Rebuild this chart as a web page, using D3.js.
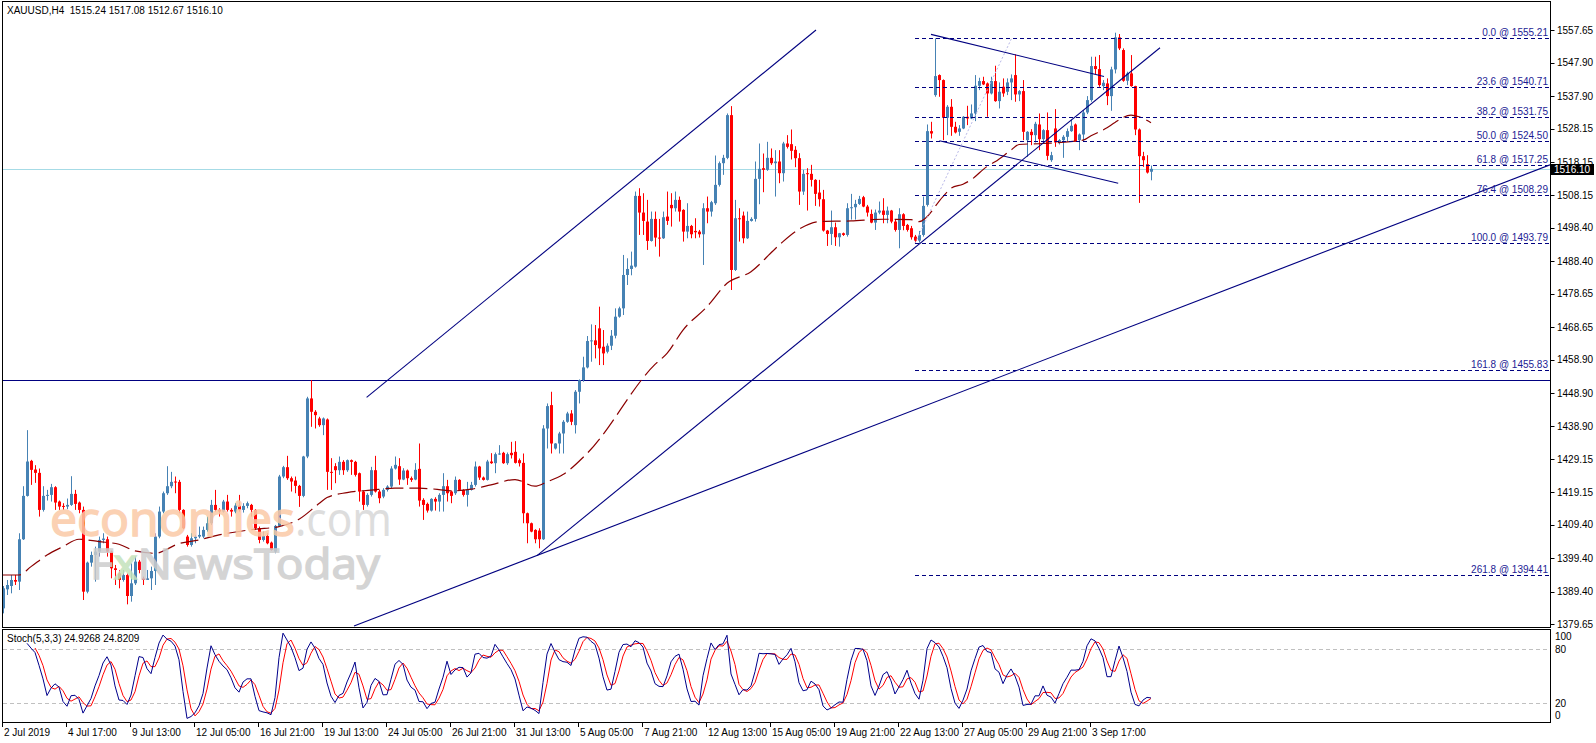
<!doctype html>
<html lang="en">
  <head>
    <meta charset="utf-8">
    <title>XAUUSD H4</title>
    <script src="https://d3js.org/d3.v7.min.js"></script>
    <style>
    body { margin: 0; background: #fff; }
    text { font-family: "Liberation Sans", Arial, sans-serif; font-size: 10px; fill: #000; }
    </style>
  </head>
  <body>
    <svg width="1596" height="743"></svg>
    <script>
      // H4 candles, 2 Jul 2019 .. 5 Sep 2019
      var opens = [
        1384.4,1390.1,1391.1,1392.9,1392.4,1405.1,1418.1,1428.6,1426.0,1425.0,
        1413.9,1418.1,1418.4,1420.7,1416.4,1415.1,1414.9,1415.4,1418.7,1416.1,
        1413.9,1389.4,1398.1,1400.4,1401.4,1404.9,1405.1,1401.4,1396.4,1394.9,
        1392.9,1394.4,1388.1,1391.9,1398.4,1393.4,1392.9,1393.4,1395.6,1405.9,
        1413.4,1418.9,1421.0,1422.4,1422.3,1413.9,1405.9,1403.4,1405.4,1405.9,
        1405.9,1407.9,1409.9,1415.4,1413.9,1413.4,1416.4,1413.9,1413.4,1415.2,
        1413.9,1415.1,1415.4,1413.9,1408.4,1404.9,1406.1,1404.1,1401.4,1409.1,
        1423.9,1426.7,1423.4,1422.7,1421.1,1418.1,1429.9,1447.3,1443.3,1441.3,
        1439.3,1441.0,1425.3,1427.0,1425.8,1428.3,1425.8,1428.8,1428.3,1424.9,
        1419.4,1415.4,1418.4,1425.8,1419.4,1417.9,1419.9,1420.9,1426.3,1427.0,
        1423.0,1425.7,1423.4,1423.0,1426.2,1416.9,1415.7,1413.7,1417.2,1416.4,
        1418.4,1421.0,1419.4,1418.9,1422.9,1419.9,1418.4,1419.9,1421.4,1426.9,
        1423.6,1422.9,1428.4,1427.9,1430.6,1431.0,1427.9,1431.0,1431.3,1428.8,
        1428.0,1412.9,1409.9,1407.9,1407.7,1405.1,1438.3,1445.3,1432.3,1433.8,
        1436.8,1440.3,1442.8,1439.3,1449.3,1452.8,1456.6,1464.5,1464.7,1468.3,
        1462.8,1461.3,1463.1,1466.1,1471.8,1474.3,1484.3,1486.1,1486.8,1508.0,
        1503.0,1500.3,1494.5,1501.1,1495.5,1495.3,1501.8,1505.3,1504.3,1506.8,
        1503.8,1497.3,1499.0,1497.5,1497.3,1496.5,1504.3,1503.3,1505.8,1511.3,
        1517.8,1519.4,1532.2,1485.8,1501.3,1502.1,1495.3,1500.5,1501.1,1513.1,
        1516.3,1515.8,1519.4,1517.8,1518.3,1514.8,1523.7,1523.5,1521.8,1519.3,
        1509.3,1514.8,1514.6,1512.8,1509.0,1507.0,1497.6,1496.6,1498.6,1495.6,
        1496.8,1496.3,1504.3,1504.6,1505.6,1507.6,1504.8,1502.6,1500.0,1503.0,
        1503.6,1502.3,1503.6,1500.3,1497.8,1502.5,1499.3,1498.3,1495.8,1494.6,
        1496.3,1505.3,1527.4,1538.2,1544.2,1542.7,1531.4,1534.7,1528.7,1527.2,
        1528.2,1531.7,1531.2,1532.7,1541.0,1542.4,1541.7,1538.7,1542.4,1536.4,
        1540.7,1539.2,1542.0,1544.2,1538.4,1539.4,1524.7,1527.2,1526.2,1529.4,
        1525.0,1527.7,1518.7,1528.2,1524.0,1524.7,1525.7,1527.4,1529.4,1524.7,
        1526.4,1533.0,1536.7,1546.9,1546.0,1540.9,1541.7,1537.9,1545.9,1555.5,
        1551.7,1542.5,1544.7,1540.9,1527.9,1519.9,1517.5,1515.24
      ];
      var highs = [
        1391.1,1392.9,1394.4,1394.4,1406.9,1421.0,1437.8,1428.9,1427.3,1426.3,
        1421.0,1419.9,1421.7,1421.0,1416.7,1415.9,1417.3,1424.0,1419.9,1416.4,
        1414.9,1398.4,1401.4,1402.9,1405.9,1406.9,1405.9,1401.7,1397.4,1395.9,
        1395.9,1394.9,1397.9,1399.9,1398.9,1393.9,1395.9,1396.9,1406.9,1414.9,
        1419.4,1427.0,1425.3,1423.9,1422.9,1414.1,1406.4,1406.9,1406.4,1408.9,
        1408.9,1411.9,1416.9,1419.9,1414.4,1416.9,1418.4,1414.4,1415.9,1418.4,
        1415.9,1416.4,1415.7,1414.1,1408.9,1407.4,1406.9,1404.4,1409.4,1424.4,
        1427.1,1430.1,1423.9,1423.9,1421.4,1430.1,1447.8,1452.8,1443.8,1441.8,
        1441.6,1441.3,1429.4,1427.9,1429.9,1428.8,1429.0,1429.0,1428.6,1425.1,
        1419.7,1418.9,1426.8,1430.1,1419.9,1420.4,1421.3,1427.0,1429.9,1429.4,
        1426.4,1426.0,1423.9,1427.9,1433.8,1417.4,1416.1,1417.4,1417.7,1418.9,
        1424.9,1422.9,1419.7,1423.9,1423.1,1420.1,1422.3,1422.3,1428.4,1427.1,
        1423.9,1428.9,1430.9,1431.1,1433.3,1431.3,1431.1,1434.3,1434.5,1429.3,
        1430.8,1413.1,1410.1,1408.1,1408.4,1439.3,1445.8,1449.3,1433.9,1437.3,
        1440.8,1443.3,1443.8,1449.8,1453.0,1459.8,1466.0,1469.5,1469.3,1474.8,
        1467.8,1463.8,1467.8,1474.3,1474.8,1490.3,1489.3,1491.3,1509.3,1510.3,
        1508.8,1506.8,1503.3,1503.3,1501.1,1503.3,1509.3,1508.8,1509.3,1507.8,
        1504.0,1505.8,1499.3,1501.3,1497.8,1505.8,1507.8,1506.5,1520.1,1518.3,
        1520.3,1532.7,1534.9,1506.8,1504.3,1503.3,1503.3,1501.6,1518.3,1523.7,
        1520.7,1524.2,1522.2,1521.7,1521.7,1524.2,1526.2,1527.9,1522.9,1520.8,
        1515.8,1516.3,1517.3,1513.0,1512.8,1509.8,1497.8,1503.6,1500.0,1496.9,
        1497.0,1505.8,1508.6,1506.8,1508.0,1508.0,1505.3,1503.9,1503.9,1506.3,
        1507.3,1504.8,1503.8,1500.8,1504.3,1502.8,1499.6,1499.0,1496.3,1497.5,
        1507.8,1529.4,1530.2,1555.2,1544.4,1542.9,1535.2,1537.0,1530.2,1529.2,
        1531.9,1535.0,1535.4,1544.2,1543.4,1543.7,1542.0,1543.7,1547.0,1542.0,
        1543.2,1543.2,1544.4,1550.4,1539.7,1542.7,1527.4,1528.0,1530.2,1532.7,
        1528.0,1533.0,1521.2,1534.0,1525.0,1526.2,1528.2,1530.9,1529.7,1526.7,
        1533.7,1537.9,1549.7,1549.7,1550.2,1542.7,1543.2,1546.7,1556.9,1556.5,
        1552.2,1545.2,1550.2,1541.0,1528.2,1521.2,1520.2,1517.08
      ];
      var lows = [
        1382.9,1388.4,1388.9,1391.4,1389.9,1404.9,1417.9,1421.4,1422.0,1411.9,
        1413.4,1416.7,1416.4,1413.9,1413.9,1413.9,1414.1,1415.1,1413.9,1412.9,
        1386.9,1388.9,1396.9,1392.4,1399.9,1403.9,1399.9,1393.4,1391.4,1390.4,
        1392.4,1385.6,1386.4,1391.4,1394.9,1391.4,1392.9,1389.9,1391.4,1405.4,
        1412.9,1418.4,1420.4,1418.9,1412.9,1408.1,1402.9,1402.9,1403.9,1405.4,
        1405.4,1407.4,1409.4,1413.4,1411.9,1413.1,1413.4,1411.9,1412.9,1413.4,
        1413.1,1414.4,1411.9,1407.9,1403.9,1404.4,1403.6,1401.7,1400.9,1408.9,
        1423.4,1422.9,1419.4,1418.9,1414.8,1417.7,1429.4,1438.8,1438.3,1438.8,
        1436.3,1419.9,1419.9,1421.9,1424.4,1424.4,1425.3,1424.4,1423.9,1416.4,
        1413.9,1414.9,1417.9,1419.1,1415.9,1417.4,1419.4,1420.4,1426.0,1421.4,
        1422.8,1421.4,1422.3,1422.8,1414.9,1410.9,1413.1,1413.4,1413.7,1413.4,
        1413.4,1416.4,1415.9,1418.4,1419.7,1417.9,1414.9,1419.7,1420.9,1422.9,
        1422.7,1422.7,1427.7,1424.9,1430.4,1427.7,1427.4,1429.3,1427.8,1426.9,
        1409.9,1403.9,1407.2,1403.9,1402.4,1404.9,1432.3,1430.8,1432.0,1430.8,
        1430.8,1440.0,1439.3,1436.8,1445.8,1452.3,1456.3,1458.3,1459.3,1457.3,
        1457.3,1460.8,1461.8,1465.3,1471.5,1472.3,1481.3,1484.2,1486.5,1496.3,
        1496.3,1491.8,1494.3,1492.8,1489.8,1495.1,1499.3,1498.8,1503.3,1500.3,
        1494.3,1495.3,1495.3,1495.3,1495.5,1487.3,1499.8,1501.8,1505.3,1510.8,
        1514.3,1519.0,1479.8,1485.5,1494.3,1493.8,1495.1,1500.3,1500.3,1505.5,
        1509.1,1515.5,1517.3,1507.8,1511.8,1512.3,1522.2,1518.9,1516.6,1505.3,
        1508.3,1503.6,1510.8,1505.0,1504.8,1497.3,1493.0,1493.3,1493.0,1492.8,
        1496.0,1495.8,1500.9,1500.9,1505.3,1504.6,1501.8,1499.8,1497.8,1502.5,
        1499.8,1499.8,1499.8,1497.3,1492.3,1497.7,1497.3,1494.9,1493.8,1494.0,
        1495.8,1504.8,1525.2,1537.7,1537.7,1524.7,1526.2,1526.0,1526.7,1526.0,
        1528.0,1529.2,1531.0,1530.4,1539.7,1541.2,1531.7,1538.4,1536.2,1534.2,
        1537.7,1538.2,1536.7,1536.2,1536.4,1524.7,1519.7,1523.2,1524.0,1521.7,
        1523.7,1518.7,1518.2,1522.7,1523.4,1519.4,1524.2,1527.2,1524.2,1521.7,
        1524.2,1532.5,1536.2,1544.5,1540.7,1539.7,1535.2,1533.5,1544.7,1551.7,
        1542.2,1541.2,1540.7,1526.2,1505.9,1516.7,1514.7,1512.67
      ];
      var closes = [
        1390.4,1391.4,1392.9,1392.4,1405.1,1418.1,1428.4,1425.9,1425.0,1413.9,
        1418.1,1418.4,1420.7,1416.1,1414.9,1414.9,1415.4,1418.7,1415.7,1413.9,
        1389.4,1398.1,1400.4,1401.4,1404.9,1405.3,1401.4,1396.4,1395.9,1392.9,
        1394.4,1388.1,1391.9,1398.4,1395.9,1392.9,1393.4,1395.6,1405.9,1413.4,
        1418.9,1421.0,1422.3,1422.2,1413.9,1408.4,1403.4,1405.4,1405.9,1406.4,
        1407.9,1409.9,1415.4,1413.9,1413.4,1416.4,1413.9,1413.4,1415.2,1413.9,
        1415.1,1415.9,1413.9,1408.4,1404.9,1406.1,1403.9,1401.9,1409.1,1423.9,
        1426.7,1423.4,1422.4,1421.1,1418.1,1429.9,1447.3,1443.3,1442.3,1439.3,
        1441.3,1425.3,1425.0,1425.8,1428.3,1425.8,1428.8,1428.3,1424.4,1419.4,
        1415.4,1418.4,1425.8,1419.4,1417.4,1419.9,1420.9,1426.3,1427.4,1423.0,
        1425.7,1423.4,1422.9,1425.9,1416.7,1415.4,1413.7,1417.2,1416.4,1418.4,
        1421.0,1418.9,1418.1,1422.9,1419.9,1418.4,1419.9,1421.4,1426.9,1423.6,
        1422.9,1428.4,1427.9,1430.6,1430.8,1427.9,1430.6,1430.3,1428.0,1427.9,
        1412.9,1409.9,1407.4,1405.1,1405.1,1438.3,1445.0,1433.8,1433.8,1436.8,
        1440.3,1442.8,1440.3,1449.3,1452.8,1456.6,1464.5,1464.7,1463.3,1462.3,
        1460.8,1463.1,1466.1,1471.8,1474.3,1484.3,1486.1,1487.1,1508.0,1503.0,
        1500.5,1494.5,1501.1,1495.5,1495.3,1501.6,1500.5,1504.3,1506.8,1503.3,
        1497.3,1499.0,1496.5,1497.1,1496.5,1504.3,1503.3,1506.1,1511.3,1517.8,
        1519.4,1532.2,1485.8,1501.3,1501.0,1495.3,1500.5,1501.1,1513.1,1516.1,
        1515.8,1519.4,1517.8,1518.3,1514.8,1523.7,1522.7,1521.5,1519.3,1509.3,
        1514.6,1514.6,1512.8,1508.6,1507.0,1497.6,1496.6,1498.6,1495.6,1496.8,
        1496.3,1504.3,1504.6,1505.6,1507.1,1504.8,1503.0,1500.0,1503.0,1503.6,
        1502.3,1503.6,1500.3,1497.8,1502.5,1499.0,1497.8,1495.6,1494.6,1496.3,
        1505.0,1527.4,1526.7,1543.9,1542.7,1531.4,1534.7,1528.7,1527.0,1528.2,
        1531.7,1531.2,1532.7,1541.0,1542.4,1541.4,1538.7,1542.4,1536.4,1539.2,
        1538.7,1542.0,1543.2,1538.4,1539.4,1527.2,1527.2,1526.2,1529.6,1525.0,
        1527.7,1520.0,1520.2,1524.0,1524.7,1525.7,1527.4,1529.0,1524.4,1526.4,
        1533.0,1536.7,1546.9,1546.0,1541.2,1541.9,1537.9,1545.9,1555.5,1552.2,
        1542.5,1544.7,1540.9,1527.9,1519.9,1518.7,1515.0,1516.10
      ];

      // moving average (dashed), read at sample bars
      var maBar = [0,4,7,11,15,19,24,29,33,38,44,49,54,63,69,74,79,81,86,92,98,104,109,112,117,122,128,133,136,140,146,
                   163,166,170,176,181,187,193,195,199,204,212,220,227,229,235,237,240,242,246,248,252,254,260,270,272,276,278,282,284,287];
      var maValue = [1394.4,1394.4,1396.9,1400.4,1402.9,1405.1,1404.4,1403.6,1401.6,1400.9,1403.8,1404.9,1406.4,1408.1,1408.9,1411.1,1415.8,1417.6,1419.1,1419.8,1420.4,1420.4,1420.0,1419.6,1420.1,1421.4,1423.0,1421.0,1422.3,1424.5,1430.8,
                     1457.5,1460.8,1467.8,1474.8,1481.8,1485.3,1492.1,1494.3,1498.0,1500.3,1500.5,1501.0,1500.9,1500.3,1507.8,1510.3,1511.5,1512.8,1516.8,1518.2,1521.7,1523.4,1523.7,1524.7,1526.0,1528.4,1530.0,1532.2,1531.7,1529.9];

      // drawn objects: trend lines (bar index, price)
      var lineStartBar   = [90.9, 133.5, 87.75, 232, 234.1];
      var lineStartPrice = [1447.64, 1400.2, 1379.1, 1556.4, 1524.5];
      var lineEndBar     = [203.25, 289.25, 386.75, 275.25, 278.8];
      var lineEndPrice   = [1557.7, 1552.4, 1517.3, 1543.8, 1511.8];

      var fibLevels = [0, 23.6, 38.2, 50, 61.8, 76.4, 100, 161.8, 261.8];
      var fibPrices = [1555.21, 1540.71, 1531.75, 1524.50, 1517.25, 1508.29, 1493.79, 1455.83, 1394.41];
      var fibBars = [228, 252.15];
      var fibAnchor = [1493.79, 1555.21];

      var hLinePrice = 1452.83;
      var lastPrice = 1516.10;

      var priceTicks = [1557.65,1547.90,1537.90,1528.15,1518.15,1508.15,1498.40,1488.40,1478.65,1468.65,
                        1458.90,1448.90,1438.90,1429.15,1419.15,1409.40,1399.40,1389.40,1379.65];
      var timeLabels = ['2 Jul 2019','4 Jul 17:00','9 Jul 13:00','12 Jul 05:00','16 Jul 21:00','19 Jul 13:00',
                        '24 Jul 05:00','26 Jul 21:00','31 Jul 13:00','5 Aug 05:00','7 Aug 21:00','12 Aug 13:00',
                        '15 Aug 05:00','19 Aug 21:00','22 Aug 13:00','27 Aug 05:00','29 Aug 21:00','3 Sep 17:00'];
      var stochLevels = [100, 80, 20, 0];

      var svg = d3.select('svg');
      var n = closes.length;
      var bull = '#4682b4', bear = '#ff0000', navy = '#000080';

      var x = d3.scaleLinear().domain([0, n - 1]).range([3, 3 + 4 * (n - 1)]);
      var y = d3.scaleLinear().domain([1379.65, 1557.65]).range([624.2, 30.2]);
      var ys = d3.scaleLinear().domain([0, 100]).range([721.3, 631.3]);

      var defs = svg.append('defs');
      defs.append('clipPath').attr('id', 'clipMain')
        .append('rect').attr('x', 3).attr('y', 2).attr('width', 1547).attr('height', 625);
      defs.append('clipPath').attr('id', 'clipStoch')
        .append('rect').attr('x', 3).attr('y', 630).attr('width', 1547).attr('height', 92);

      var main = svg.append('g').attr('clip-path', 'url(#clipMain)');

      // current price and horizontal line
      main.append('line').attr('x1', 3).attr('x2', 1550).attr('y1', Math.round(y(lastPrice)) + 0.5).attr('y2', Math.round(y(lastPrice)) + 0.5)
        .attr('stroke', '#a6dbe6');
      main.append('line').attr('x1', 3).attr('x2', 1550).attr('y1', Math.round(y(hLinePrice)) + 0.5).attr('y2', Math.round(y(hLinePrice)) + 0.5)
        .attr('stroke', navy).attr('stroke-width', 1.2);

      // candles
      var bars = d3.range(n);
      var cx = function(i) { return Math.round(x(i)); };
      var col = function(i) { return closes[i] >= opens[i] ? bull : bear; };
      main.selectAll('line.wick').data(bars).enter().append('line')
        .attr('class', 'wick')
        .attr('x1', function(i) { return cx(i) + 0.5; })
        .attr('x2', function(i) { return cx(i) + 0.5; })
        .attr('y1', function(i) { return y(highs[i]); })
        .attr('y2', function(i) { return y(lows[i]); })
        .attr('stroke', col);
      main.selectAll('rect.body').data(bars).enter().append('rect')
        .attr('class', 'body')
        .attr('x', function(i) { return cx(i) - 1; })
        .attr('width', 3)
        .attr('y', function(i) { return y(Math.max(opens[i], closes[i])); })
        .attr('height', function(i) { return Math.max(1, Math.abs(y(opens[i]) - y(closes[i]))); })
        .attr('fill', col);

      // moving average
      var maLine = d3.line()
        .x(function(j) { return x(maBar[j]); })
        .y(function(j) { return y(maValue[j]); })
        .curve(d3.curveMonotoneX);
      main.append('path').attr('d', maLine(d3.range(maBar.length)))
        .attr('fill', 'none').attr('stroke', '#8b0000').attr('stroke-width', 1.2).attr('stroke-dasharray', '18,6');

      // trend lines
      main.selectAll('line.trend').data(d3.range(lineStartBar.length)).enter().append('line')
        .attr('x1', function(k) { return x(lineStartBar[k]); })
        .attr('y1', function(k) { return y(lineStartPrice[k]); })
        .attr('x2', function(k) { return x(lineEndBar[k]); })
        .attr('y2', function(k) { return y(lineEndPrice[k]); })
        .attr('stroke', navy).attr('stroke-width', 1.1);

      // fibonacci
      main.append('line')
        .attr('x1', x(fibBars[0])).attr('y1', y(fibAnchor[0]))
        .attr('x2', x(fibBars[1])).attr('y2', y(fibAnchor[1]))
        .attr('stroke', '#b8b8e8').attr('stroke-dasharray', '2,2');
      var fibG = main.selectAll('g.fib').data(d3.range(fibLevels.length)).enter().append('g');
      fibG.append('line')
        .attr('x1', x(fibBars[0])).attr('x2', 1549)
        .attr('y1', function(k) { return Math.round(y(fibPrices[k])) + 0.5; })
        .attr('y2', function(k) { return Math.round(y(fibPrices[k])) + 0.5; })
        .attr('stroke', navy).attr('stroke-dasharray', '4,3');
      fibG.append('text')
        .attr('x', 1548).attr('y', function(k) { return Math.round(y(fibPrices[k])) - 2; })
        .attr('text-anchor', 'end')
        .style('fill', '#1c1c94')
        .text(function(k) { return fibLevels[k].toFixed(1) + ' @ ' + fibPrices[k].toFixed(2); });

      // watermark
      var wm = svg.append('g').attr('opacity', 0.85).style('pointer-events', 'none');
      wm.append('text').attr('x', 50).attr('y', 536)
        .attr('textLength', 245).attr('lengthAdjust', 'spacingAndGlyphs')
        .style('font-family', '"Noto Sans", sans-serif').style('font-size', '48px')
        .style('fill', '#fbc9a6').style('stroke', '#fbc9a6').style('stroke-width', 1.3)
        .text('economies');
      wm.append('text').attr('x', 295).attr('y', 536)
        .attr('textLength', 97).attr('lengthAdjust', 'spacingAndGlyphs')
        .style('font-family', '"Noto Sans", sans-serif').style('font-size', '48px').style('fill', '#d8d8d8')
        .text('.com');
      var fx = wm.append('text').attr('x', 90).attr('y', 579)
        .attr('textLength', 290).attr('lengthAdjust', 'spacingAndGlyphs')
        .style('font-family', '"Noto Sans", sans-serif').style('font-size', '42px')
        .style('fill', '#cdcdcd').style('stroke', '#cdcdcd').style('stroke-width', 1.3);
      fx.append('tspan').text('F');
      fx.append('tspan').style('fill', '#c4e2bc').style('stroke', '#c4e2bc').text('x');
      fx.append('tspan').text('NewsToday');

      // frames
      svg.append('rect').attr('x', 2.5).attr('y', 1.5).attr('width', 1548).attr('height', 626)
        .attr('fill', 'none').attr('stroke', '#000');
      svg.append('rect').attr('x', 2.5).attr('y', 629.5).attr('width', 1548).attr('height', 93)
        .attr('fill', 'none').attr('stroke', '#000');

      // title
      svg.append('text').attr('x', 7).attr('y', 14).style('white-space', 'pre')
        .text('XAUUSD,H4  1515.24 1517.08 1512.67 1516.10');

      // price axis
      var pa = svg.append('g');
      pa.selectAll('line').data(priceTicks).enter().append('line')
        .attr('x1', 1550.5).attr('x2', 1554.5)
        .attr('y1', function(d) { return Math.round(y(d)) + 0.5; })
        .attr('y2', function(d) { return Math.round(y(d)) + 0.5; })
        .attr('stroke', '#000');
      pa.selectAll('text').data(priceTicks).enter().append('text')
        .attr('x', 1557).attr('y', function(d) { return y(d) + 3.5; })
        .text(function(d) { return d.toFixed(2); });
      pa.append('rect').attr('x', 1551).attr('y', Math.round(y(lastPrice)) - 5).attr('width', 43).attr('height', 11).attr('fill', '#000');
      pa.append('text').attr('x', 1554).attr('y', Math.round(y(lastPrice)) + 4).style('fill', '#fff')
        .text(lastPrice.toFixed(2));

      // stochastic (5,3,3) from the candles
      var hh = [], ll = [], kVal = [], dVal = [];
      for (var i = 0; i < n; i++) {
        if (i >= 4) {
          hh[i] = d3.max(highs.slice(i - 4, i + 1));
          ll[i] = d3.min(lows.slice(i - 4, i + 1));
        }
        if (i >= 6) {
          var num = 0, den = 0;
          for (var j = i - 2; j <= i; j++) { num += closes[j] - ll[j]; den += hh[j] - ll[j]; }
          kVal[i] = den === 0 ? 100 : num / den * 100;
        }
        if (i >= 8) dVal[i] = (kVal[i] + kVal[i - 1] + kVal[i - 2]) / 3;
      }
      var st = svg.append('g').attr('clip-path', 'url(#clipStoch)');
      st.selectAll('line.lvl').data([80, 20]).enter().append('line')
        .attr('x1', 3).attr('x2', 1550)
        .attr('y1', function(d) { return Math.round(ys(d)) + 0.5; })
        .attr('y2', function(d) { return Math.round(ys(d)) + 0.5; })
        .attr('stroke', '#c0c0c0').attr('stroke-dasharray', '4,3');
      var stLine = function(arr) {
        return d3.line()
          .defined(function(i) { return arr[i] != null; })
          .x(function(i) { return x(i); })
          .y(function(i) { return ys(arr[i]); })(bars);
      };
      st.append('path').attr('d', stLine(dVal)).attr('fill', 'none').attr('stroke', '#ff0000');
      st.append('path').attr('d', stLine(kVal)).attr('fill', 'none').attr('stroke', '#00008b');
      svg.append('text').attr('x', 7).attr('y', 642).text('Stoch(5,3,3) 24.9268 24.8209');
      var stLabelY = [640, 653, 707, 719];
      svg.selectAll('text.sl').data(stochLevels).enter().append('text')
        .attr('x', 1555).attr('y', function(d, k) { return stLabelY[k]; })
        .text(function(d) { return d; });

      // time axis
      var ta = svg.append('g');
      var tBars = timeLabels.map(function(t, k) { return k * 16; });
      ta.selectAll('line').data(tBars).enter().append('line')
        .attr('x1', function(b) { return Math.round(x(b)) - 0.5; })
        .attr('x2', function(b) { return Math.round(x(b)) - 0.5; })
        .attr('y1', 722.5).attr('y2', 727)
        .attr('stroke', '#000');
      ta.selectAll('text').data(tBars).enter().append('text')
        .attr('x', function(b) { return Math.round(x(b)) + 1; })
        .attr('y', 736)
        .text(function(b, k) { return timeLabels[k]; });
    </script>
  </body>
</html>
